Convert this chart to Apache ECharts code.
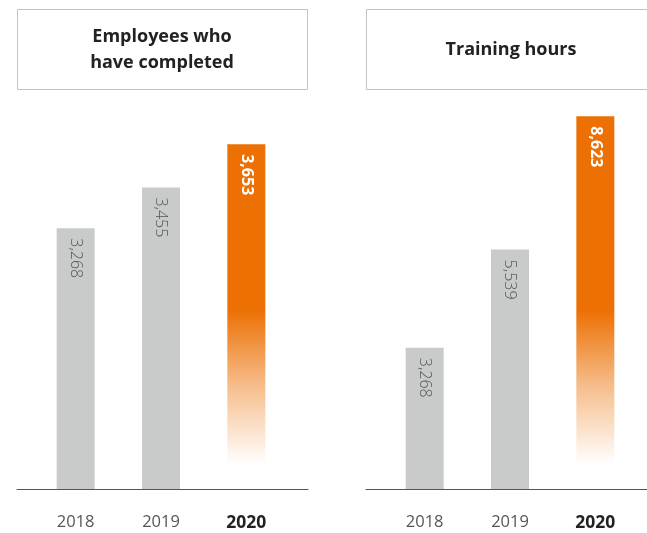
<!DOCTYPE html>
<html>
<head>
<meta charset="utf-8">
<script src="https://cdn.jsdelivr.net/npm/echarts@6/dist/echarts.min.js"></script>
<style>
  html, body { margin: 0; padding: 0; background: #ffffff; }
  #chart { width: 647px; height: 533px; }
</style>
</head>
<body>
<div id="chart"></div>
<script>
// Chart data
const years = ['2018', '2019', '2020'];
const employeesCompleted = [3268, 3455, 3653];
const trainingHours = [3268, 5539, 8623];
const panelTitles = ['Employees who\nhave completed', 'Training hours'];

const FONT = '"Open Sans", "Noto Sans", sans-serif';
const GREY_BAR = '#c9caca';
const ORANGE = '#ec7003';
const AXIS_COLOR = '#555555';

// Latest year is highlighted with an orange bar fading towards the baseline
function fadeFill(solidUntil, clearAt) {
  return new echarts.graphic.LinearGradient(0, 0, 0, 1, [
    { offset: 0, color: ORANGE },
    { offset: solidUntil, color: ORANGE },
    { offset: (solidUntil + clearAt) / 2, color: 'rgba(236,112,3,0.45)' },
    { offset: clearAt, color: 'rgba(236,112,3,0)' },
    { offset: 1, color: 'rgba(236,112,3,0)' }
  ]);
}

function barItems(values, solidUntil, clearAt) {
  const last = values.length - 1;
  return values.map((v, i) => {
    if (i !== last) {
      return {
        value: v,
        itemStyle: { color: GREY_BAR },
        label: { color: '#555555', fontWeight: 300 }
      };
    }
    return {
      value: v,
      itemStyle: { color: fadeFill(solidUntil, clearAt) },
      label: { color: '#ffffff', fontWeight: 'bold' }
    };
  });
}

const valueLabel = {
  show: true,
  position: 'insideTop',
  distance: 10,
  rotate: -90,
  align: 'left',
  verticalAlign: 'middle',
  fontFamily: FONT,
  fontSize: 16,
  formatter: p => p.value.toLocaleString('en-US')
};

function categoryAxis(gridIndex) {
  return {
    type: 'category',
    gridIndex,
    data: years,
    axisLine: { show: false },
    axisTick: { show: false },
    axisLabel: {
      interval: 0,
      margin: 25,
      fontFamily: FONT,
      fontSize: 17,
      formatter: (v, i) => i === years.length - 1 ? '{hi|' + v + '}' : '{lo|' + v + '}',
      rich: {
        lo: { color: '#555555', fontFamily: FONT, fontSize: 16.5 },
        hi: { color: '#222222', fontFamily: FONT, fontSize: 17.5, fontWeight: 'bold' }
      }
    }
  };
}

// Full-width baseline under each panel
function baselineAxis(gridIndex) {
  return {
    type: 'category',
    gridIndex,
    data: years,
    axisLine: { show: true, lineStyle: { color: AXIS_COLOR, width: 1 } },
    axisTick: { show: false },
    axisLabel: { show: false }
  };
}

function valueAxis(gridIndex, min, max) {
  return {
    type: 'value',
    gridIndex,
    min, max,
    show: false,
    splitLine: { show: false }
  };
}

function titleBox(x, width, text) {
  return {
    type: 'group',
    children: [
      {
        type: 'rect',
        shape: { x: x + 0.5, y: 9.5, width, height: 80 },
        style: { fill: '#ffffff', stroke: '#c3c3c3', lineWidth: 1 }
      },
      {
        type: 'text',
        x: x + width / 2,
        y: 50,
        style: {
          text,
          fill: '#222222',
          font: 'bold 18px ' + FONT,
          align: 'center',
          verticalAlign: 'middle',
          lineHeight: 26
        }
      }
    ]
  };
}

const chart = echarts.init(document.getElementById('chart'), null, { renderer: 'canvas' });

chart.setOption({
  backgroundColor: '#ffffff',
  animation: false,
  grid: [
    { left: 33, width: 256, top: 100, bottom: 44 },
    { left: 382, width: 256, top: 100, bottom: 44 },
    { left: 17, width: 291, top: 100, bottom: 44 },
    { left: 366, width: 290, top: 100, bottom: 44 }
  ],
  xAxis: [categoryAxis(0), categoryAxis(1), baselineAxis(2), baselineAxis(3)],
  yAxis: [
    valueAxis(0, 2075, 3855),
    valueAxis(1, 0, 9000),
    valueAxis(2, 0, 1),
    valueAxis(3, 0, 1)
  ],
  graphic: [
    titleBox(17, 290, panelTitles[0]),
    titleBox(366, 290, panelTitles[1])
  ],
  series: [
    {
      type: 'bar',
      name: 'Employees who have completed',
      xAxisIndex: 0,
      yAxisIndex: 0,
      barWidth: 38,
      data: barItems(employeesCompleted, 0.48, 0.93),
      label: valueLabel
    },
    {
      type: 'bar',
      name: 'Training hours',
      xAxisIndex: 1,
      yAxisIndex: 1,
      barWidth: 38,
      data: barItems(trainingHours, 0.52, 0.935),
      label: valueLabel
    }
  ]
});
</script>
</body>
</html>
